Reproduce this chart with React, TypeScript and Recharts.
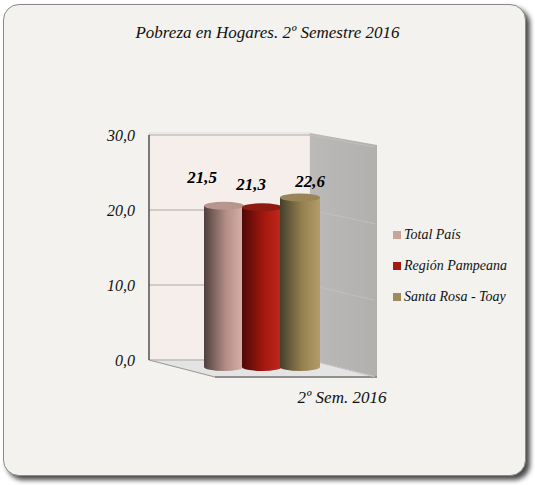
import React from 'react';
import { BarChart, Bar, XAxis, YAxis, CartesianGrid, Legend, LabelList } from 'recharts';

// data
const categories = ['2º Sem. 2016'];
const seriesNames = ['Total País', 'Región Pampeana', 'Santa Rosa - Toay'];
const totalPais = [21.5];
const regionPampeana = [21.3];
const santaRosaToay = [22.6];
const yTicks = [0, 10, 20, 30];

const data = categories.map((cat, i) => ({
    cat,
    total: totalPais[i],
    pampeana: regionPampeana[i],
    santaRosa: santaRosaToay[i],
}));

const FONT = '"Liberation Serif", "DejaVu Serif", serif';
const W = 535;
const H = 485;

// plot layout
const PLOT_LEFT = 149;
const PLOT_TOP = 135;
const PLOT_RIGHT = 375;
const PLOT_BOTTOM = 360;
const BACK_RIGHT = 310;
const FLOOR_FRONT = 377;
const DEPTH = 7;
const X_AXIS_H = 40;
const Y_AXIS_W = 60;

const series = [
    { key: 'total', name: seriesNames[0], swatch: '#c9a49b', dark: '#4f403e', mid: '#b48e86', light: '#d9b1a8', cap: '#b8968e', dx: -22, dy: -16 },
    { key: 'pampeana', name: seriesNames[1], swatch: '#a31a10', dark: '#4e0906', mid: '#a3180f', light: '#c4281c', cap: '#8e1a12', dx: -11, dy: -10 },
    { key: 'santaRosa', name: seriesNames[2], swatch: '#a08a5c', dark: '#45402c', mid: '#94804f', light: '#b39c6a', cap: '#9a8558', dx: 10, dy: -4 },
];

const fmt = (v: number) => v.toFixed(1).replace('.', ',');

const sideDrop = (y: number) => 12 + (5 * (y - PLOT_TOP)) / (PLOT_BOTTOM - PLOT_TOP);

const makeCylinder = (idx: number) => (props: any) => {
    const { x, y, width, height } = props;
    const s = series[idx];
    const cx = x + width / 2;
    const rx = width / 2;
    return (
        <g>
            <ellipse cx={cx} cy={y + height + DEPTH} rx={rx} ry={4} fill={`url(#cyl${idx})`} />
            <rect x={x} y={y + DEPTH} width={width} height={height} fill={`url(#cyl${idx})`} />
            <ellipse cx={cx} cy={y + DEPTH} rx={rx} ry={4} fill={s.cap} />
        </g>
    );
};

const gridLine = (p: any) => {
    const { x1, y1, x2 } = p;
    return (
        <g key={`g-${y1}`}>
            <line x1={x1} y1={y1} x2={BACK_RIGHT} y2={y1} stroke="#a9a9a9" strokeWidth={1} />
            <line x1={BACK_RIGHT} y1={y1} x2={x2} y2={y1 + sideDrop(y1)} stroke="#c2c0be" strokeWidth={1} />
        </g>
    );
};

const LegendContent = () => (
    <div style={{ fontFamily: FONT, fontStyle: 'italic', fontSize: 14, color: '#111' }}>
        {series.map((s) => (
            <div key={s.key} style={{ display: 'flex', alignItems: 'center', height: 31 }}>
                <span style={{ width: 8, height: 8, background: s.swatch, marginRight: 3, display: 'inline-block' }} />
                <span>{s.name}</span>
            </div>
        ))}
    </div>
);

export default function App() {
    return (
        <div style={{ position: 'absolute', left: 0, top: 0, width: W, height: H }}>
            <div
                style={{
                    position: 'absolute', left: 3, top: 4, width: 521, height: 470,
                    border: '1.5px solid #8a8a8a', borderRadius: 16,
                    background: '#f3f2ef', boxShadow: '4px 4px 5px #4a4a4a',
                }}
            />
            <div
                style={{
                    position: 'absolute', left: 0, top: 23, width: W, textAlign: 'center',
                    fontFamily: FONT, fontStyle: 'italic', fontSize: 17, color: '#111',
                }}
            >
                Pobreza en Hogares. 2º Semestre 2016
            </div>
            <svg width={W} height={H} style={{ position: 'absolute', left: 0, top: 0 }}>
                <defs>
                    <linearGradient id="sideWall" x1="0" y1="0" x2="1" y2="0">
                        <stop offset="0%" stopColor="#bcbab8" />
                        <stop offset="100%" stopColor="#b2b0ae" />
                    </linearGradient>
                </defs>
                <rect x={PLOT_LEFT} y={PLOT_TOP - 2} width={BACK_RIGHT - PLOT_LEFT} height={PLOT_BOTTOM - PLOT_TOP + 2} fill="#f6eeeb" stroke="#dddddd" />
                <polygon
                    points={`${BACK_RIGHT},${PLOT_TOP - 2} ${PLOT_RIGHT + 2},${PLOT_TOP + 10} ${PLOT_RIGHT + 2},${FLOOR_FRONT} ${BACK_RIGHT},${PLOT_BOTTOM}`}
                    fill="url(#sideWall)"
                />
                <polygon
                    points={`${PLOT_LEFT},${PLOT_BOTTOM} ${BACK_RIGHT},${PLOT_BOTTOM} ${PLOT_RIGHT + 2},${FLOOR_FRONT} ${215},${FLOOR_FRONT}`}
                    fill="#e4e4e4"
                />
                <line x1={PLOT_LEFT} y1={PLOT_BOTTOM} x2={215} y2={FLOOR_FRONT} stroke="#9a9a9a" strokeWidth={1.2} />
                <line x1={215} y1={FLOOR_FRONT} x2={PLOT_RIGHT + 2} y2={FLOOR_FRONT} stroke="#8f8f8f" strokeWidth={2} />
            </svg>
            <div style={{ position: 'absolute', left: 0, top: 0 }}>
                <BarChart
                    width={W}
                    height={H}
                    data={data}
                    margin={{ top: PLOT_TOP, right: W - PLOT_RIGHT, bottom: H - PLOT_BOTTOM - X_AXIS_H, left: PLOT_LEFT - Y_AXIS_W }}
                    barSize={40}
                    barGap={-2}
                >
                    <defs>
                        {series.map((s, i) => (
                            <linearGradient key={s.key} id={`cyl${i}`} x1="0" y1="0" x2="1" y2="0">
                                <stop offset="0%" stopColor={s.dark} />
                                <stop offset="55%" stopColor={s.mid} />
                                <stop offset="100%" stopColor={s.light} />
                            </linearGradient>
                        ))}
                    </defs>
                    <CartesianGrid vertical={false} horizontal={gridLine} />
                    <XAxis
                        dataKey="cat"
                        axisLine={false}
                        tickLine={false}
                        tickSize={0}
                        tickMargin={0}
                        height={X_AXIS_H}
                        tick={({ x, y, payload }: any) => (
                            <text x={x + 80} y={y + 43} textAnchor="middle" fontFamily={FONT} fontStyle="italic" fontSize={17} fill="#111">
                                {payload.value}
                            </text>
                        )}
                    />
                    <YAxis
                        width={Y_AXIS_W}
                        domain={[0, 30]}
                        ticks={yTicks}
                        tickFormatter={fmt}
                        axisLine={{ stroke: '#555', strokeWidth: 1.5 }}
                        tickLine={false}
                        tickSize={0}
                        tickMargin={14}
                        tick={{ fontFamily: FONT, fontStyle: 'italic', fontSize: 16, fill: '#111' }}
                    />
                    <Legend
                        layout="vertical"
                        align="center"
                        verticalAlign="middle"
                        wrapperStyle={{ left: 393, top: 219, width: 'auto' }}
                        content={LegendContent}
                    />
                    {series.map((s, i) => (
                        <Bar key={s.key} dataKey={s.key} name={s.name} fill={s.swatch} shape={makeCylinder(i)} isAnimationActive={false}>
                            <LabelList
                                dataKey={s.key}
                                content={(p: any) => (
                                    <text
                                        x={p.x + p.width / 2 + s.dx}
                                        y={p.y + s.dy}
                                        textAnchor="middle"
                                        fontFamily={FONT}
                                        fontStyle="italic"
                                        fontWeight="bold"
                                        fontSize={17}
                                        fill="#000"
                                    >
                                        {fmt(p.value)}
                                    </text>
                                )}
                            />
                        </Bar>
                    ))}
                </BarChart>
            </div>
        </div>
    );
}
